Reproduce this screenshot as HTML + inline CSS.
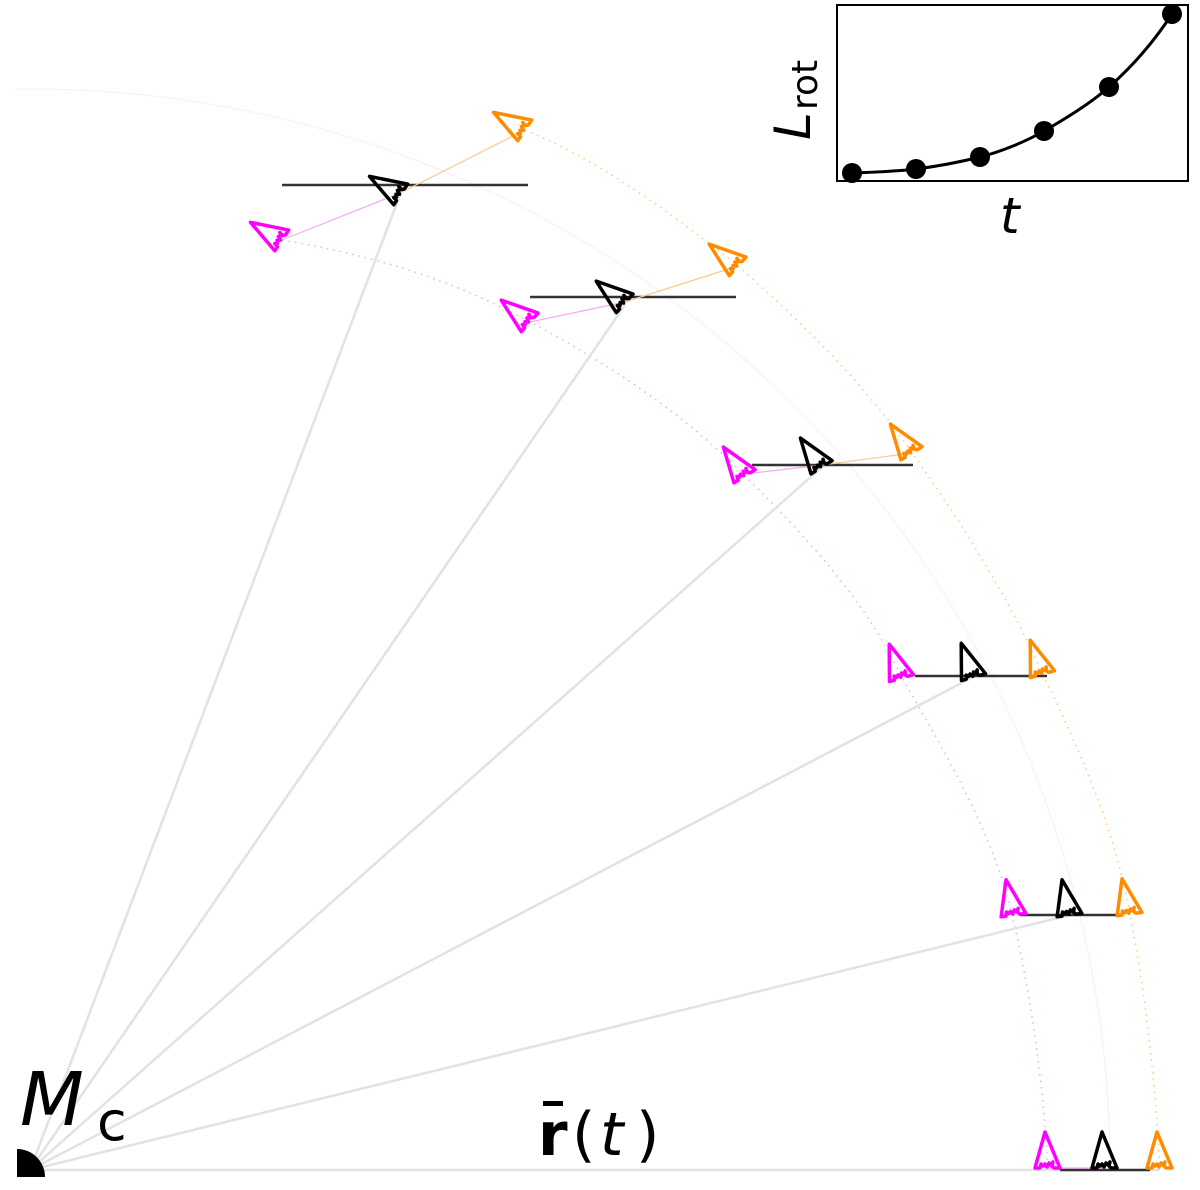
<!DOCTYPE html>
<html><head><meta charset="utf-8"><style>
html,body{margin:0;padding:0;background:#fff;}
svg{display:block;}
text{font-family:"DejaVu Sans","Liberation Sans",sans-serif;}
</style></head><body>
<svg width="1200" height="1190" viewBox="0 0 1200 1190" xmlns="http://www.w3.org/2000/svg">
<defs>
<path id="ar" d="M-3,-36 L-13,0 L-8,0 L-7,-4 L-5,-2 L-3,-4 L-1,-1 L1,-5 L3,-3 L5,-6 L4,-2 L6,0 L12,0 Z" fill="none" stroke-width="3.5" stroke-linejoin="round"/>
</defs>
<path d="M16,89 A1080,1080 0 0 1 1110,1170" fill="none" stroke="#f8eef0" stroke-width="1"/>
<path d="M282,240 C400,260 470,290 530,322 C620,370 690,420 745,476 C820,550 870,610 902,678 C950,760 995,840 1012,915 C1030,990 1043,1080 1048,1168" fill="none" stroke="#f7a8f7" stroke-width="1.5" stroke-dasharray="1.5,5"/>
<path d="M525,130 C600,160 680,220 738,266 C800,320 870,390 912,453 C960,520 1010,600 1043,675 C1080,750 1115,830 1130,915 C1145,990 1155,1080 1160,1168" fill="none" stroke="#fcc890" stroke-width="1.5" stroke-dasharray="1.5,5"/>
<g stroke="#e2e2e2" stroke-width="2.5">
<line x1="30" y1="1170" x2="1160" y2="1170"/>
<line x1="30" y1="1170" x2="1070" y2="915"/>
<line x1="30" y1="1170" x2="973" y2="677"/>
<line x1="30" y1="1170" x2="822" y2="467"/>
<line x1="30" y1="1170" x2="625" y2="305"/>
<line x1="30" y1="1170" x2="400" y2="195"/>
</g>
<g stroke="#333" stroke-width="2.5">
<line x1="1060" y1="1170" x2="1150" y2="1170"/>
<line x1="1020" y1="915" x2="1120" y2="915"/>
<line x1="915" y1="676" x2="1047" y2="676"/>
<line x1="752" y1="465" x2="913" y2="465"/>
<line x1="530" y1="297" x2="736" y2="297"/>
<line x1="282" y1="185" x2="528" y2="185"/>
</g>
<g stroke-width="1.2">
<line x1="1048" y1="1168" x2="1105" y2="1168" stroke="#f5a0f5"/>
<line x1="282" y1="240" x2="400" y2="193" stroke="#f7a8f7"/>
<line x1="400" y1="193" x2="525" y2="130" stroke="#fcc890"/>
<line x1="530" y1="322" x2="625" y2="302" stroke="#f7a8f7"/>
<line x1="625" y1="302" x2="738" y2="266" stroke="#fcc890"/>
<line x1="745" y1="474" x2="822" y2="465" stroke="#f7a8f7"/>
<line x1="822" y1="465" x2="912" y2="453" stroke="#fcc890"/>
</g>
<g>
<use href="#ar" stroke="#ff00ff" transform="translate(1048,1168)"/>
<use href="#ar" stroke="#000" transform="translate(1105,1168)"/>
<use href="#ar" stroke="#ff8c00" transform="translate(1160,1168)"/>
<use href="#ar" stroke="#ff00ff" transform="translate(1014,915) rotate(-8)"/>
<use href="#ar" stroke="#000" transform="translate(1070,915) rotate(-8)"/>
<use href="#ar" stroke="#ff8c00" transform="translate(1130,914) rotate(-8)"/>
<use href="#ar" stroke="#ff00ff" transform="translate(902,678) rotate(-16)"/>
<use href="#ar" stroke="#000" transform="translate(974,677) rotate(-16)"/>
<use href="#ar" stroke="#ff8c00" transform="translate(1043,674) rotate(-16)"/>
<use href="#ar" stroke="#ff00ff" transform="translate(745,476) rotate(-32)"/>
<use href="#ar" stroke="#000" transform="translate(822,467) rotate(-32)"/>
<use href="#ar" stroke="#ff8c00" transform="translate(912,453) rotate(-32)"/>
<use href="#ar" stroke="#ff00ff" transform="translate(530,322) rotate(-48)"/>
<use href="#ar" stroke="#000" transform="translate(625,303) rotate(-48)"/>
<use href="#ar" stroke="#ff8c00" transform="translate(738,266) rotate(-48)"/>
<use href="#ar" stroke="#ff00ff" transform="translate(282,240) rotate(-56)"/>
<use href="#ar" stroke="#000" transform="translate(401,194) rotate(-56)"/>
<use href="#ar" stroke="#ff8c00" transform="translate(525,130) rotate(-56)"/>
</g>
<path d="M17,1149 A28,28 0 0 1 45,1177 L17,1177 Z" fill="#000"/>
<text x="20" y="1125" font-size="74" font-style="italic">M</text>
<text x="97" y="1140" font-size="54">c</text>
<text x="538" y="1155" font-size="60" font-weight="bold">r</text>
<rect x="543" y="1101" width="20" height="5" fill="#000"/>
<text x="572" y="1155" font-size="60">(</text>
<text x="600" y="1155" font-size="60" font-style="italic">t</text>
<text x="636" y="1155" font-size="60">)</text>
<rect x="837" y="5" width="351" height="176" fill="#fff" stroke="#000" stroke-width="2"/>
<path d="M852,173 C880,172 900,171 916,169 C940,166 960,162 980,157 C1000,152 1025,142 1044,131 C1065,119 1090,104 1109,87 C1135,64 1155,40 1172,14" fill="none" stroke="#000" stroke-width="3"/>
<g fill="#000">
<circle cx="852" cy="173" r="10"/>
<circle cx="916" cy="169" r="10"/>
<circle cx="980" cy="157" r="10"/>
<circle cx="1044" cy="131" r="10"/>
<circle cx="1109" cy="87" r="10"/>
<circle cx="1172" cy="14" r="10"/>
</g>
<text transform="translate(810,140) rotate(-90)" font-size="50" font-style="italic">L</text>
<text transform="translate(817,110) rotate(-90)" font-size="36">rot</text>
<text x="1000" y="233" font-size="50" font-style="italic">t</text>
</svg>
</body></html>
